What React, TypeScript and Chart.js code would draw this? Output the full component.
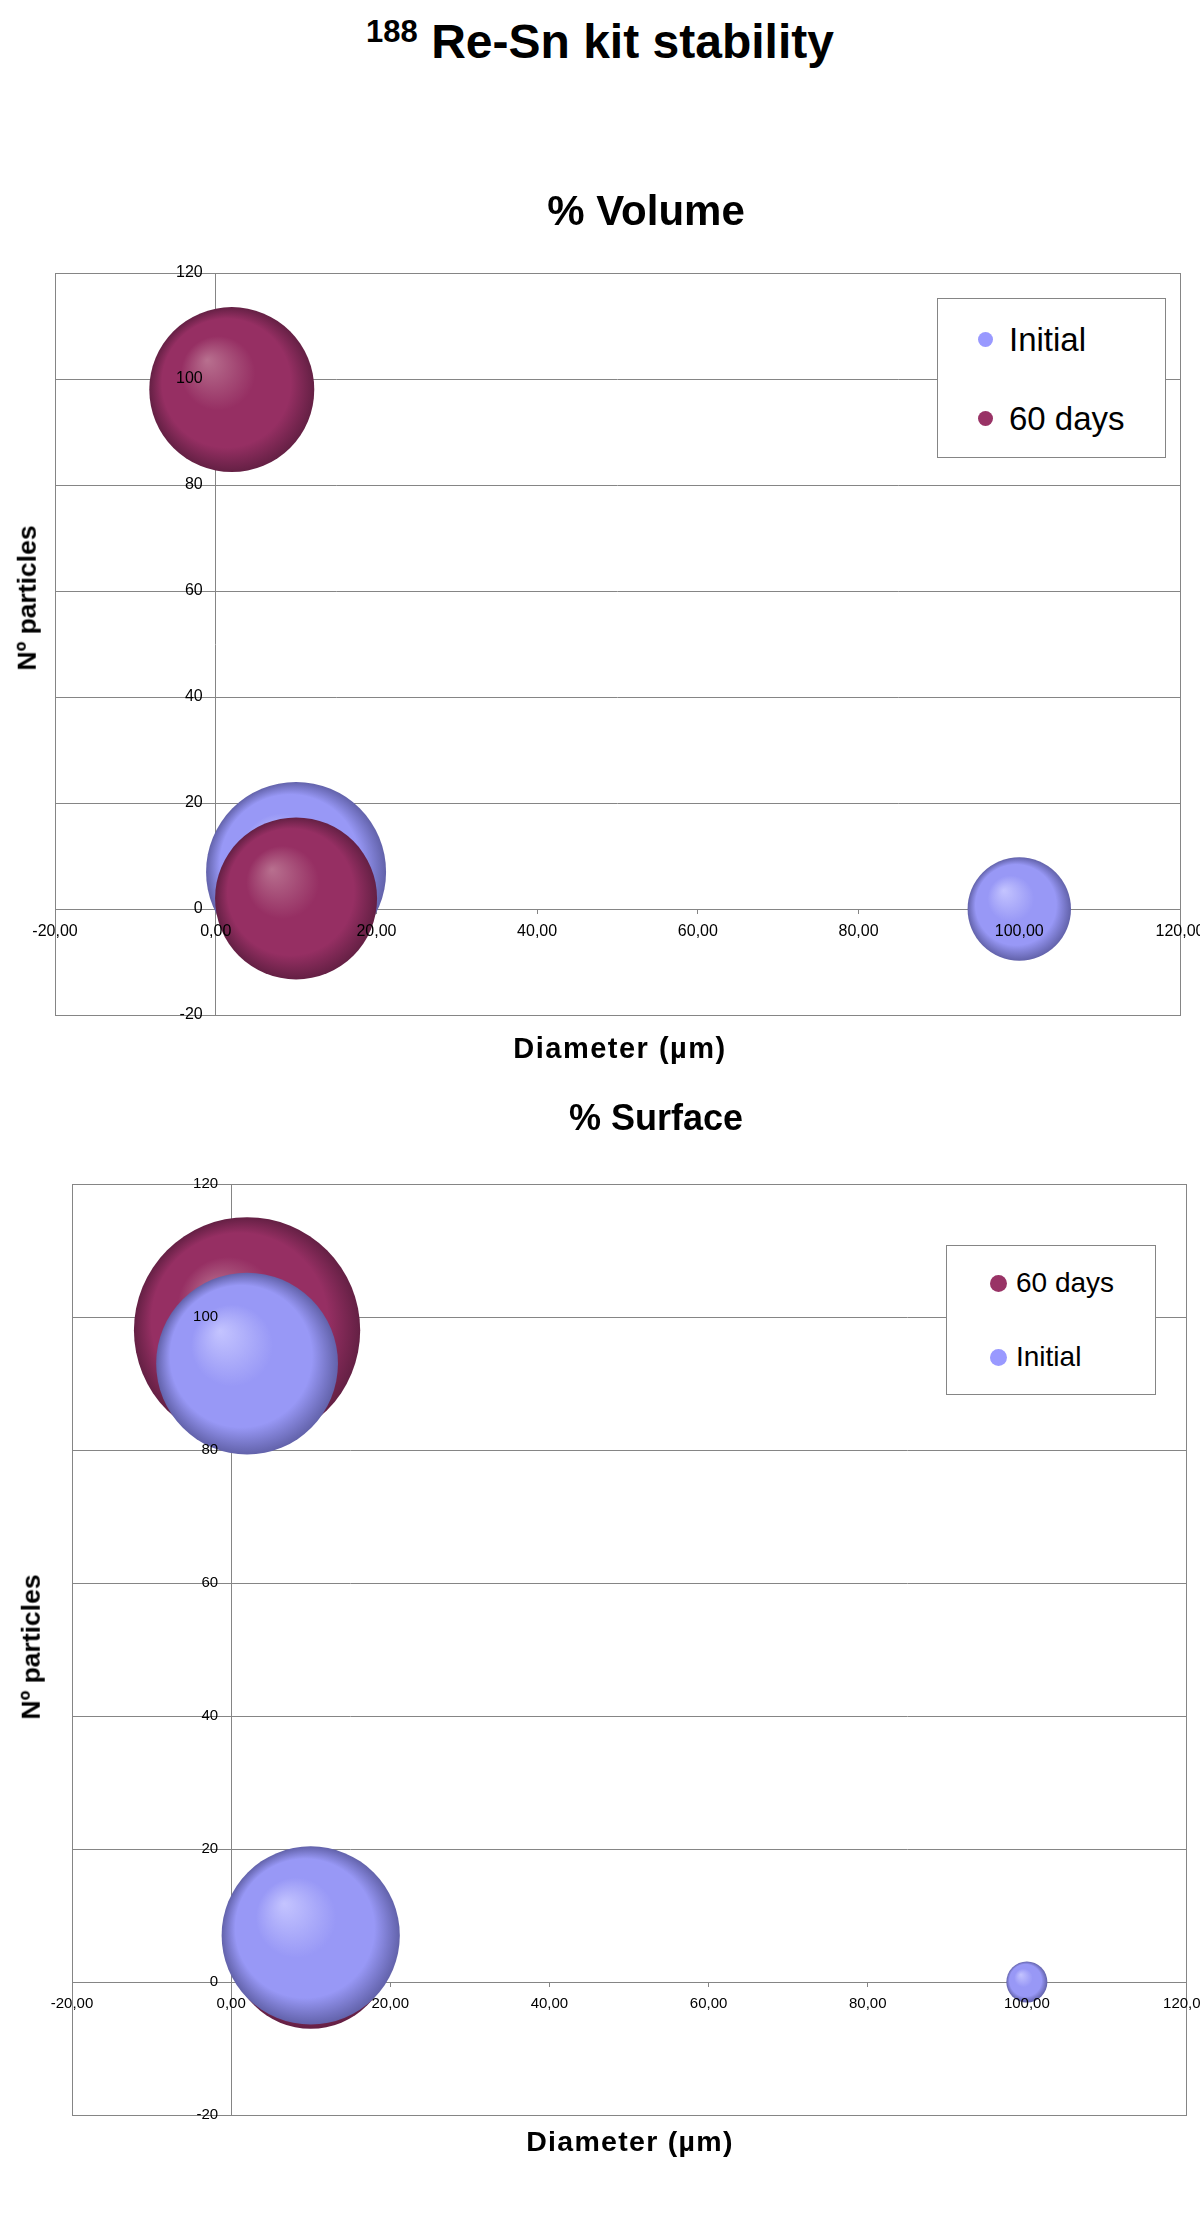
import React, { useEffect, useRef } from "react";
import { Chart, registerables } from "chart.js";

Chart.register(...registerables);

// ---------- data ----------
const xTickValues = [-20, 0, 20, 40, 60, 80, 100, 120];
const yTickValues = [-20, 0, 20, 40, 60, 80, 100, 120];

// % Volume
const volumeSeries = ["Initial", "60 days"];
const volInitialDiam = [10, 100];
const volInitialCount = [7, 0];
const volInitialSize = [100, 33];
const vol60Diam = [2, 10];
const vol60Count = [98, 2];
const vol60Size = [84, 81];

// % Surface
const surfaceSeries = ["60 days", "Initial"];
const surf60Diam = [2, 10];
const surf60Count = [98, 5];
const surf60Size = [158, 79];
const surfInitialDiam = [2, 10, 100];
const surfInitialCount = [93, 7, 0];
const surfInitialSize = [102, 98, 5.2];

// ---------- style ----------
const FONT = "'Liberation Sans', Arial, Helvetica, sans-serif";
const GRID = "#858585";
const BUBBLE_PX = 90; // radius for size 100
const Y_LABEL_GAP = 13;
const BLUE = { light: "#C4C4FF", mid: "#9898F6", dark: "#6262AA", flat: "#9999FF" };
const MAROON = { light: "#B8708F", mid: "#962F63", dark: "#642044", flat: "#993366" };

type Pal = typeof BLUE;

function toPoints(xs: number[], ys: number[], sizes: number[]) {
  return xs.map((x, i) => ({ x, y: ys[i], r: BUBBLE_PX * Math.sqrt(sizes[i] / 100) }));
}

function sphereFill(p: Pal) {
  return (c: any) => {
    const chart = c.chart;
    const raw = c.raw;
    const xs = chart && chart.scales ? chart.scales.x : null;
    const ys = chart && chart.scales ? chart.scales.y : null;
    if (!raw || !xs || !ys) return p.mid;
    const cx = xs.getPixelForValue(raw.x);
    const cy = ys.getPixelForValue(raw.y);
    const r = raw.r;
    if (!isFinite(cx) || !isFinite(cy) || !(r > 0)) return p.mid;
    const g = chart.ctx.createRadialGradient(cx - 0.3 * r, cy - 0.36 * r, 0, cx, cy, r);
    g.addColorStop(0, p.light);
    g.addColorStop(0.45, p.mid);
    g.addColorStop(0.78, p.mid);
    g.addColorStop(1, p.dark);
    return g;
  };
}

const framePlugin = {
  id: "frame",
  beforeDatasetsDraw(chart: any) {
    const { ctx, chartArea: a } = chart;
    ctx.save();
    ctx.strokeStyle = GRID;
    ctx.lineWidth = 1;
    ctx.strokeRect(
      Math.round(a.left) + 0.5,
      Math.round(a.top) + 0.5,
      Math.round(a.right) - Math.round(a.left),
      Math.round(a.bottom) - Math.round(a.top)
    );
    ctx.restore();
  },
};

// y labels of an axis placed at x = 0 sit flush on the axis line; move them left by a gap
function shiftYLabels(s: any) {
  if (s.__shifted || typeof s._computeLabelItems !== "function") return;
  s.__shifted = true;
  const orig = s._computeLabelItems;
  s._computeLabelItems = function (ca: any) {
    const items = orig.call(this, ca);
    return items.map((it: any) => {
      const tr = it && it.options && it.options.translation;
      if (!tr) return it;
      return { ...it, options: { ...it.options, translation: [tr[0] - Y_LABEL_GAP, tr[1]] } };
    });
  };
  s._labelItems = null;
}

interface Cfg {
  datasets: any[];
  padding: { left: number; right: number; top: number; bottom: number };
  tickSize: number;
  xPad: number;
}

function makeChart(canvas: HTMLCanvasElement, cfg: Cfg) {
  return new Chart(canvas, {
    type: "bubble",
    data: { datasets: cfg.datasets },
    plugins: [framePlugin],
    options: {
      responsive: false,
      animation: false,
      devicePixelRatio: 1,
      events: [],
      layout: { padding: cfg.padding, autoPadding: false },
      plugins: {
        legend: { display: false },
        title: { display: false },
        tooltip: { enabled: false },
      },
      scales: {
        x: {
          type: "linear",
          min: -20,
          max: 120,
          position: { y: 0 } as any,
          afterBuildTicks: (s: any) => {
            s.ticks = xTickValues.map((v) => ({ value: v }));
          },
          afterFit: (s: any) => {
            s.paddingLeft = 0;
            s.paddingRight = 0;
          },
          ticks: {
            autoSkip: false,
            maxRotation: 0,
            padding: cfg.xPad,
            color: "#000",
            font: { family: FONT, size: cfg.tickSize },
            z: 1,
            callback: (v: any) => Number(v).toFixed(2).replace(".", ","),
          },
          grid: {
            display: true,
            drawOnChartArea: false,
            drawTicks: true,
            tickLength: 4,
            color: GRID,
            tickColor: GRID,
          },
          border: { display: true, color: GRID, width: 1 },
        },
        y: {
          type: "linear",
          min: -20,
          max: 120,
          position: { x: 0 } as any,
          afterBuildTicks: (s: any) => {
            s.ticks = yTickValues.map((v) => ({ value: v }));
          },
          afterUpdate: shiftYLabels,
          ticks: {
            padding: 0,
            color: "#000",
            font: { family: FONT, size: cfg.tickSize },
            z: 1,
          },
          grid: { color: GRID, drawTicks: false, lineWidth: 1 },
          border: { display: true, color: GRID, width: 1 },
        },
      },
    } as any,
  });
}

function Txt(props: {
  x: number;
  y: number;
  size: number;
  bold?: boolean;
  rotate?: boolean;
  left?: boolean;
  ls?: number;
  children: React.ReactNode;
}) {
  const { x, y, size, bold, rotate, left, ls, children } = props;
  return (
    <div
      style={{
        position: "absolute",
        left: x,
        top: y,
        transform: left
          ? "translateY(-50%)"
          : `translate(-50%, -50%)${rotate ? " rotate(-90deg)" : ""}`,
        fontFamily: FONT,
        fontSize: size,
        fontWeight: bold ? "bold" : "normal",
        lineHeight: 1,
        whiteSpace: "nowrap",
        letterSpacing: ls ? ls : 0,
        color: "#000",
      }}
    >
      {children}
    </div>
  );
}

function Legend(props: {
  box: { left: number; top: number; width: number; height: number };
  items: { label: string; color: string; y: number }[];
  markerX: number;
  markerR: number;
  textX: number;
  size: number;
}) {
  const { box, items, markerX, markerR, textX, size } = props;
  return (
    <>
      <div
        style={{
          position: "absolute",
          left: box.left,
          top: box.top,
          width: box.width,
          height: box.height,
          boxSizing: "border-box",
          border: `1px solid ${GRID}`,
          background: "#fff",
        }}
      />
      {items.map((it) => (
        <React.Fragment key={it.label}>
          <div
            style={{
              position: "absolute",
              left: markerX - markerR,
              top: it.y - markerR,
              width: markerR * 2,
              height: markerR * 2,
              borderRadius: "50%",
              background: it.color,
            }}
          />
          <Txt x={textX} y={it.y} size={size} left>
            {it.label}
          </Txt>
        </React.Fragment>
      ))}
    </>
  );
}

export default function App() {
  const c1 = useRef<HTMLCanvasElement>(null);
  const c2 = useRef<HTMLCanvasElement>(null);

  useEffect(() => {
    const pal: Record<string, Pal> = { Initial: BLUE, "60 days": MAROON };
    const volData: Record<string, any[]> = {
      Initial: toPoints(volInitialDiam, volInitialCount, volInitialSize),
      "60 days": toPoints(vol60Diam, vol60Count, vol60Size),
    };
    const surfData: Record<string, any[]> = {
      Initial: toPoints(surfInitialDiam, surfInitialCount, surfInitialSize),
      "60 days": toPoints(surf60Diam, surf60Count, surf60Size),
    };
    const mk = (names: string[], data: Record<string, any[]>) =>
      names.map((n, i) => ({
        label: n,
        data: data[n],
        order: names.length - 1 - i, // later series drawn on top
        backgroundColor: sphereFill(pal[n]),
        borderWidth: 0,
        hoverBorderWidth: 0,
      }));

    const ch1 = makeChart(c1.current!, {
      datasets: mk(volumeSeries, volData),
      padding: { left: 55, right: 20, top: 123, bottom: 85 },
      tickSize: 16,
      xPad: 9,
    });
    const ch2 = makeChart(c2.current!, {
      datasets: mk(surfaceSeries, surfData),
      padding: { left: 72, right: 14, top: 34, bottom: 85 },
      tickSize: 15,
      xPad: 9,
    });
    return () => {
      ch1.destroy();
      ch2.destroy();
    };
  }, []);

  return (
    <div
      style={{
        position: "absolute",
        left: 0,
        top: 0,
        width: 1200,
        height: 2215,
        background: "#fff",
        overflow: "hidden",
      }}
    >
      <canvas
        ref={c1}
        width={1200}
        height={950}
        style={{ position: "absolute", left: 0, top: 150, width: 1200, height: 950, display: "block" }}
      />
      <canvas
        ref={c2}
        width={1200}
        height={1050}
        style={{ position: "absolute", left: 0, top: 1150, width: 1200, height: 1050, display: "block" }}
      />

      {/* main title */}
      <div
        style={{
          position: "absolute",
          left: 600,
          top: 42,
          transform: "translate(-50%, -50%)",
          fontFamily: FONT,
          fontSize: 48,
          fontWeight: "bold",
          lineHeight: 1,
          whiteSpace: "nowrap",
          color: "#000",
        }}
      >
        <span style={{ fontSize: 31, position: "relative", top: -16 }}>188</span> Re-Sn kit stability
      </div>

      {/* % Volume */}
      <Txt x={646} y={211} size={42} bold>
        % Volume
      </Txt>
      <Txt x={27} y={598} size={26.5} bold rotate>
        Nº particles
      </Txt>
      <Txt x={620} y={1048} size={29} bold ls={1.5}>
        Diameter (µm)
      </Txt>
      <Legend
        box={{ left: 937, top: 298, width: 229, height: 160 }}
        items={[
          { label: volumeSeries[0], color: BLUE.flat, y: 339 },
          { label: volumeSeries[1], color: MAROON.flat, y: 418 },
        ]}
        markerX={985}
        markerR={7.5}
        textX={1009}
        size={33}
      />

      {/* % Surface */}
      <Txt x={656} y={1118} size={36} bold>
        % Surface
      </Txt>
      <Txt x={31} y={1647} size={26.5} bold rotate>
        Nº particles
      </Txt>
      <Txt x={630} y={2141} size={28.5} bold ls={1.3}>
        Diameter (µm)
      </Txt>
      <Legend
        box={{ left: 946, top: 1245, width: 210, height: 150 }}
        items={[
          { label: surfaceSeries[0], color: MAROON.flat, y: 1283 },
          { label: surfaceSeries[1], color: BLUE.flat, y: 1357 },
        ]}
        markerX={998}
        markerR={8.5}
        textX={1016}
        size={28}
      />
    </div>
  );
}
